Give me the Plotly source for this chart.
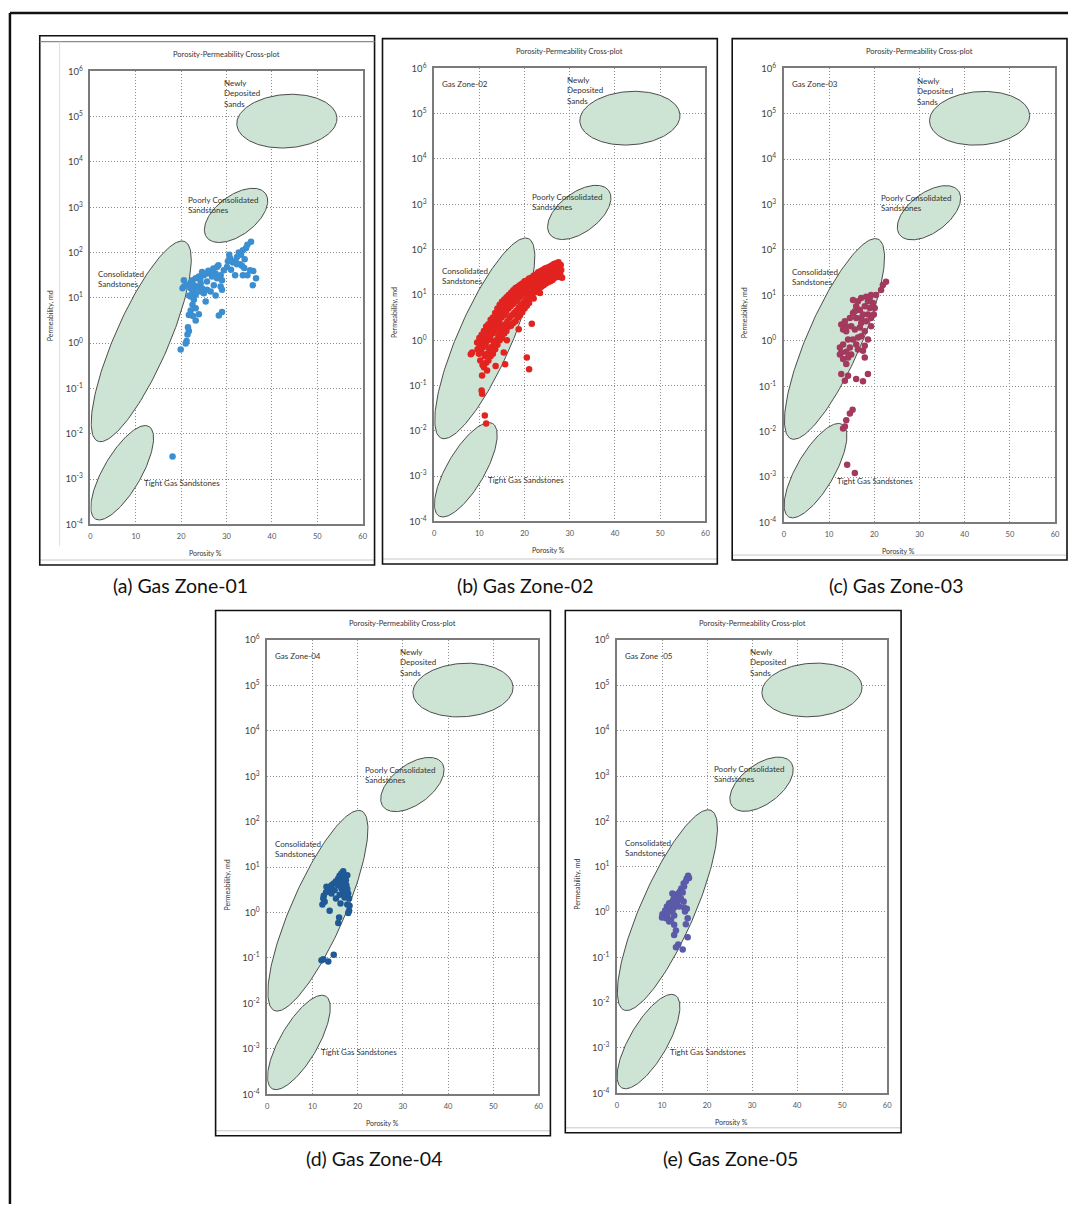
import numpy as np
import plotly.graph_objects as go

W, H = 1073, 1209

# ---------------- data (porosity %, log10 permeability md) ----------------
zone_captions = ["(a) Gas Zone-01", "(b) Gas Zone-02", "(c) Gas Zone-03",
                 "(d) Gas Zone-04", "(e) Gas Zone-05"]
zone_inner_labels = ["", "Gas Zone-02", "Gas Zone-03", "Gas Zone-04", "Gas Zone -05"]
zone_colors = ["#3b8fd0", "#e2231f", "#a33a5e", "#1f5a96", "#5b5aa8"]

zone01 = [
    (35.4, 2.24), (34.6, 2.17), (34.3, 2.10), (33.6, 2.05), (32.7, 2.00), (33.2, 1.95),
    (32.3, 1.90), (30.8, 1.87), (30.3, 1.81), (31.4, 1.78), (32.3, 1.74), (33.4, 1.71),
    (30.1, 1.68), (29.4, 1.61), (27.9, 1.68), (27.1, 1.65), (26.5, 1.59), (27.6, 1.54),
    (28.7, 1.50), (29.0, 1.39), (27.9, 1.43), (26.8, 1.47), (25.7, 1.54), (25.0, 1.50),
    (24.6, 1.57), (23.9, 1.47), (23.2, 1.43), (22.5, 1.39), (22.0, 1.32), (21.2, 1.28),
    (20.6, 1.25), (22.8, 1.28), (23.6, 1.25), (24.6, 1.21), (25.7, 1.18), (26.5, 1.14),
    (28.7, 1.25), (29.0, 1.18), (27.6, 1.05), (25.0, 1.10), (24.3, 1.14), (22.5, 1.14),
    (22.1, 1.03), (22.8, 0.96), (25.4, 0.92), (22.5, 0.85), (23.2, 0.77), (22.1, 0.72),
    (23.9, 0.64), (21.7, 0.62), (23.2, 0.50), (29.0, 0.69), (28.3, 0.61), (21.7, 0.27),
    (21.4, 0.19), (21.2, 0.05), (21.0, -0.01), (19.9, -0.14), (35.2, 1.61), (35.9, 1.59),
    (36.5, 1.43), (35.8, 1.28), (34.6, 1.50), (33.6, 1.50), (31.9, 1.50), (33.0, 1.74),
    (33.9, 1.66), (20.6, 1.39), (20.3, 1.21), (22.1, 1.21), (24.3, 1.32), (25.7, 1.36),
    (27.2, 1.28), (23.2, 1.07), (31.0, 1.62), (30.6, 1.95), (34.0, 1.85), (32.0, 1.82),
    (28.2, 1.72), (26.0, 1.60), (24.2, 1.40), (23.0, 1.18), (21.8, 1.05), (22.6, 0.60),
    (21.5, 0.35), (18.1, -2.50),
]

zone02 = [
    (9.5, -0.05), (9.6, -0.2),
    (10.0, 0.05), (10.1, -0.1), (9.9, -0.3), (10.2, -0.45),
    (10.5, 0.12), (10.6, -0.05), (10.4, -0.25), (10.7, -0.55),
    (11.0, 0.2), (11.1, 0.05), (10.9, -0.15), (11.2, -0.35), (11.0, -0.6),
    (11.5, 0.3), (11.6, 0.1), (11.4, -0.1), (11.7, -0.3), (11.5, -0.5),
    (12.0, 0.35), (12.1, 0.2), (11.9, 0.0), (12.2, -0.2), (12.0, -0.45),
    (12.5, 0.45), (12.6, 0.25), (12.4, 0.05), (12.7, -0.15), (12.5, -0.35),
    (13.0, 0.5), (13.1, 0.35), (12.9, 0.15), (13.2, -0.05), (13.0, -0.3),
    (13.5, 0.6), (13.6, 0.4), (13.4, 0.2), (13.7, 0.0), (13.5, -0.2),
    (14.0, 0.7), (14.1, 0.5), (13.9, 0.3), (14.2, 0.1), (14.0, -0.1),
    (14.5, 0.78), (14.6, 0.6), (14.4, 0.4), (14.7, 0.2), (14.5, 0.0),
    (15.0, 0.85), (15.1, 0.7), (14.9, 0.5), (15.2, 0.3), (15.0, 0.05),
    (15.5, 0.9), (15.6, 0.75), (15.4, 0.55), (15.7, 0.35), (15.5, 0.15),
    (16.0, 0.95), (16.1, 0.8), (15.9, 0.62), (16.2, 0.42), (16.0, 0.2),
    (16.5, 1.0), (16.6, 0.85), (16.4, 0.7), (16.7, 0.5), (16.5, 0.3),
    (17.0, 1.05), (17.1, 0.92), (16.9, 0.75), (17.2, 0.55), (17.0, 0.32),
    (17.5, 1.1), (17.6, 0.95), (17.4, 0.8), (17.7, 0.6), (17.5, 0.38),
    (18.0, 1.15), (18.1, 1.0), (17.9, 0.85), (18.2, 0.65), (18.0, 0.42),
    (18.5, 1.18), (18.6, 1.05), (18.4, 0.9), (18.7, 0.72), (18.5, 0.5),
    (19.0, 1.22), (19.1, 1.1), (18.9, 0.95), (19.2, 0.78), (19.0, 0.55),
    (19.5, 1.25), (19.6, 1.13), (19.4, 1.0), (19.7, 0.82), (19.5, 0.62),
    (20.0, 1.3), (20.1, 1.18), (19.9, 1.03), (20.2, 0.88), (20.0, 0.7),
    (20.5, 1.32), (20.6, 1.2), (20.4, 1.08), (20.7, 0.92), (20.5, 0.76),
    (21.0, 1.36), (21.1, 1.25), (20.9, 1.12), (21.2, 0.98), (21.0, 0.82),
    (21.5, 1.38), (21.6, 1.28), (21.4, 1.15), (21.7, 1.02),
    (22.0, 1.42), (22.1, 1.32), (21.9, 1.2), (22.2, 1.05), (22.0, 0.92),
    (22.5, 1.45), (22.6, 1.35), (22.4, 1.22), (22.7, 1.1),
    (23.0, 1.5), (23.1, 1.4), (22.9, 1.28), (23.2, 1.13),
    (23.5, 1.52), (23.6, 1.42), (23.4, 1.3), (23.7, 1.18),
    (24.0, 1.55), (24.1, 1.45), (23.9, 1.35), (24.2, 1.21),
    (24.5, 1.58), (24.6, 1.48), (24.4, 1.38), (24.7, 1.25),
    (25.0, 1.6), (25.1, 1.5), (24.9, 1.4), (25.2, 1.28),
    (25.5, 1.62), (25.6, 1.52), (25.4, 1.42), (25.7, 1.3),
    (26.0, 1.65), (26.1, 1.55), (25.9, 1.45), (26.2, 1.33),
    (26.5, 1.68), (26.6, 1.58), (26.4, 1.48), (26.7, 1.38),
    (27.0, 1.7), (27.1, 1.6), (26.9, 1.5), (27.2, 1.4),
    (27.5, 1.72), (27.6, 1.6), (27.4, 1.5), (27.7, 1.4),
    (28.0, 1.66), (28.1, 1.55), (27.9, 1.45), (28.3, 1.38),
    (8.4, -0.27), (8.1, -0.31), (10.6, -0.78), (10.5, -1.11), (10.6, -1.18),
    (11.2, -1.66), (11.5, -1.84), (20.5, -0.38), (21.0, -0.64), (21.6, 0.36),
    (18.7, 0.24), (23.4, 1.04), (24.5, 1.29), (15.7, -0.53), (13.6, -0.57),
    (11.7, -0.67), (16.1, 0.0), (15.4, -0.27),
]

zone03 = [
    (22.6, 1.30), (21.9, 1.23), (21.5, 1.12), (20.4, 1.01), (19.3, 1.01), (18.2, 0.97),
    (17.1, 0.94), (16.4, 0.87), (18.6, 0.87), (19.7, 0.83), (19.0, 0.72), (17.9, 0.76),
    (16.8, 0.68), (17.5, 0.58), (18.6, 0.58), (19.3, 0.50), (18.2, 0.43), (17.1, 0.39),
    (16.0, 0.50), (15.3, 0.61), (14.6, 0.50), (13.5, 0.43), (12.7, 0.36), (13.1, 0.25),
    (13.8, 0.21), (14.9, 0.32), (15.7, 0.25), (16.8, 0.29), (17.9, 0.21), (17.1, 0.10),
    (16.4, 0.07), (15.3, 0.03), (14.2, 0.03), (13.1, -0.08), (12.4, -0.15), (12.7, -0.26),
    (13.8, -0.24), (14.6, -0.15), (14.9, -0.30), (14.2, -0.37), (13.1, -0.40), (12.4, -0.30),
    (16.0, -0.08), (16.4, -0.19), (17.5, -0.22), (17.9, -0.11), (13.8, -0.51), (12.7, -0.73),
    (14.2, -0.77), (13.5, -0.88), (16.0, -0.84), (17.5, -0.89), (18.6, -0.73), (15.7, 0.65),
    (19.0, 0.94), (20.1, 0.72), (19.9, 0.58), (19.3, 0.32), (18.6, 0.03), (17.9, -0.37),
    (15.3, 0.90), (16.0, 0.76), (17.1, 0.50), (13.8, 0.32), (15.2, -1.52), (14.6, -1.60),
    (13.8, -1.75), (13.5, -1.89), (13.1, -1.93), (14.0, -2.73), (15.7, -2.91),
]

zone04 = [
    (16.8, 0.91), (16.4, 0.86), (17.1, 0.82), (16.0, 0.81), (15.7, 0.75), (16.8, 0.75),
    (17.4, 0.71), (15.2, 0.69), (16.0, 0.68), (14.7, 0.64), (16.8, 0.64), (17.5, 0.60),
    (14.2, 0.60), (15.7, 0.60), (13.8, 0.55), (16.4, 0.53), (17.7, 0.52), (13.5, 0.49),
    (14.9, 0.49), (16.8, 0.45), (13.0, 0.45), (17.9, 0.42), (12.5, 0.37), (16.0, 0.39),
    (15.2, 0.31), (17.1, 0.33), (12.4, 0.31), (18.1, 0.31), (12.7, 0.24), (16.2, 0.20),
    (12.2, 0.18), (17.7, 0.18), (18.2, 0.15), (18.1, 0.04), (17.9, -0.01), (13.8, 0.04),
    (15.9, -0.11), (15.7, -0.23), (12.4, -1.03), (12.0, -1.05), (14.7, -0.93), (13.5, -1.08),
    (14.2, 0.42), (17.7, 0.82), (13.1, 0.57),
]

zone05 = [
    (15.8, 0.80), (15.5, 0.74), (15.3, 0.68), (14.8, 0.63), (14.9, 0.56), (14.3, 0.52),
    (14.0, 0.45), (13.6, 0.41), (14.6, 0.43), (13.1, 0.36), (13.8, 0.32), (12.6, 0.30),
    (13.5, 0.24), (12.3, 0.23), (11.6, 0.19), (13.1, 0.17), (12.0, 0.14), (11.1, 0.12),
    (12.7, 0.10), (11.6, 0.05), (10.7, 0.03), (12.3, 0.01), (10.1, -0.05), (11.2, -0.06),
    (10.0, -0.12), (10.9, -0.14), (12.0, -0.17), (12.7, -0.08), (14.9, 0.10), (15.5, 0.07),
    (15.1, 0.01), (15.7, -0.14), (11.6, -0.21), (12.7, -0.28), (15.3, -0.27), (13.1, -0.41),
    (12.7, -0.51), (15.7, -0.56), (13.6, -0.72), (13.1, -0.78), (14.6, -0.83), (14.2, 0.30),
    (14.8, 0.23), (16.0, 0.75), (13.8, 0.12), (12.3, 0.41),
]
zones = [zone01, zone02, zone03, zone04, zone05]

porosity_ticks = [0, 10, 20, 30, 40, 50, 60]
perm_exponents = [-4, -3, -2, -1, 0, 1, 2, 3, 4, 5, 6]
perm_tick_labels = ["10<sup>-4</sup>", "10<sup>-3</sup>", "10<sup>-2</sup>", "10<sup>-1</sup>",
                    "10<sup>0</sup>", "10<sup>1</sup>", "10<sup>2</sup>", "10<sup>3</sup>",
                    "10<sup>4</sup>", "10<sup>5</sup>", "10<sup>6</sup>"]

# rock-type regions: centre (porosity, log10 k), semi-axes in screen px, tilt in deg
region_center_poro = [43.3, 32.1, 11.2, 7.0]
region_center_logk = [4.9, 2.82, 0.04, -2.86]
region_major_px = [50.5, 37.0, 110.0, 54.0]
region_minor_px = [27.0, 20.0, 27.0, 19.0]
region_angle_deg = [4.0, 37.0, 66.5, 60.0]
region_labels = ["Newly<br>Deposited<br>Sands", "Poorly Consolidated<br>Sandstones",
                 "Consolidated<br>Sandstones", "Tight Gas Sandstones"]
region_label_poro = [29.0, 21.1, 1.3, 11.4]
region_label_logk = [5.5, 3.04, 1.41, -3.08]

# ---------------- layout (pixels) ----------------
plot_px = [(89, 64, 363, 522), (435, 61, 708, 519), (787, 61, 1060, 520),
           (267, 639, 540, 1098), (619, 639, 891, 1097)]
frame_px = [(38, 28, 375, 563), (383, 31, 720, 562), (735, 31, 1072, 558),
            (215, 609, 552, 1140), (567, 609, 905, 1137)]
caption_px = [(180, 584), (526, 584), (900, 584), (374, 1163), (733, 1163)]


def fx(x):
    return x / W


def fy(y):
    return 1 - y / H


FONT = "Lato"
fig = go.Figure()
shapes = []
annotations = []
layout = {}

for i in range(5):
    l, t, r, b = plot_px[i]
    ppx = (r - l) / 60.0
    ppy = (b - t) / 10.0
    sfx = "" if i == 0 else str(i + 1)
    xref, yref = "x" + sfx, "y" + sfx
    # regions
    tt = np.linspace(0, 2 * np.pi, 181)
    for k in range(4):
        th = np.radians(region_angle_deg[k])
        a, bb = region_major_px[k], region_minor_px[k]
        dx = a * np.cos(th) * np.cos(tt) - bb * np.sin(th) * np.sin(tt)
        dy = a * np.sin(th) * np.cos(tt) + bb * np.cos(th) * np.sin(tt)
        fig.add_trace(go.Scatter(
            x=region_center_poro[k] + dx / ppx,
            y=10 ** (region_center_logk[k] + dy / ppy),
            mode="lines", fill="toself", fillcolor="#cde3d4",
            line=dict(color="#3a3a3a", width=0.9),
            xaxis=xref, yaxis=yref, showlegend=False, hoverinfo="skip"))
        annotations.append(dict(
            x=region_label_poro[k], y=region_label_logk[k], xref=xref, yref=yref,
            text=region_labels[k], showarrow=False, xanchor="left", yanchor="middle",
            align="left", font=dict(family=FONT, size=8, color="#333")))
    pts = zones[i]
    fig.add_trace(go.Scatter(
        x=[p[0] for p in pts], y=[10 ** p[1] for p in pts], mode="markers",
        marker=dict(color=zone_colors[i], size=6.5, line=dict(width=0)),
        xaxis=xref, yaxis=yref, showlegend=False))

    axis_common = dict(showgrid=True, gridcolor="#8c8c8c", griddash="1px,2px", gridwidth=1,
                       showline=True, mirror=True, linecolor="#7b7b7b", linewidth=1.5,
                       zeroline=False, ticks="", ticklabelstandoff=4)
    layout["xaxis" + sfx] = dict(
        domain=[fx(l), fx(r)], range=[0, 60], anchor=yref, tickvals=porosity_ticks,
        tickfont=dict(family=FONT, size=7.5, color="#555"), **axis_common)
    layout["yaxis" + sfx] = dict(
        domain=[fy(b), fy(t)], type="log", range=[-4, 6], anchor=xref,
        tickvals=[10 ** e for e in perm_exponents], ticktext=perm_tick_labels,
        tickfont=dict(family=FONT, size=9.5, color="#444"), **axis_common)

    # texts around the plot
    annotations.append(dict(x=fx((l + r) / 2), y=fy(t - 17), xref="paper", yref="paper",
                            text="Porosity-Permeability Cross-plot", showarrow=False,
                            xanchor="center", yanchor="middle",
                            font=dict(family=FONT, size=7.5, color="#333")))
    annotations.append(dict(x=fx(l - 40), y=fy((t + b) / 2 + 18), xref="paper", yref="paper",
                            text="Permeability, md", showarrow=False, textangle=-90,
                            xanchor="center", yanchor="middle",
                            font=dict(family=FONT, size=7, color="#333")))
    annotations.append(dict(x=fx((l + r) / 2 - 21), y=fy(b + 29), xref="paper", yref="paper",
                            text="Porosity %", showarrow=False,
                            xanchor="center", yanchor="middle",
                            font=dict(family=FONT, size=7, color="#333")))
    if zone_inner_labels[i]:
        annotations.append(dict(x=1.3, y=5.65, xref=xref, yref=yref, text=zone_inner_labels[i],
                                showarrow=False, xanchor="left", yanchor="middle",
                                font=dict(family=FONT, size=8, color="#333")))
    cx, cy = caption_px[i]
    annotations.append(dict(x=fx(cx), y=fy(cy), xref="paper", yref="paper",
                            text=zone_captions[i], showarrow=False,
                            xanchor="center", yanchor="middle",
                            font=dict(family=FONT, size=19.5, color="#111")))
    # frames
    fl, ft, fr, fb = frame_px[i]
    shapes.append(dict(type="line", xref="paper", yref="paper", x0=fx(fl), x1=fx(fr),
                       y0=fy(fb - 5), y1=fy(fb - 5), line=dict(color="#c8c8c8", width=1)))
    shapes.append(dict(type="rect", xref="paper", yref="paper", x0=fx(fl), x1=fx(fr),
                       y0=fy(fb), y1=fy(ft), line=dict(color="#111", width=1.6)))

# extra window lines on panel (a)
shapes.append(dict(type="line", xref="paper", yref="paper", x0=fx(38), x1=fx(375),
                   y0=fy(34), y1=fy(34), line=dict(color="#8a8a8a", width=1.3)))
shapes.append(dict(type="line", xref="paper", yref="paper", x0=fx(58), x1=fx(58),
                   y0=fy(34), y1=fy(544), line=dict(color="#dddddd", width=1)))
# outer border (top and left)
shapes.append(dict(type="line", xref="paper", yref="paper", x0=fx(8), x1=1.0,
                   y0=fy(5), y1=fy(5), line=dict(color="#111", width=2.5)))
shapes.append(dict(type="line", xref="paper", yref="paper", x0=fx(8), x1=fx(8),
                   y0=fy(5), y1=0.0, line=dict(color="#111", width=2.5)))

fig.update_layout(width=W, height=H, margin=dict(l=0, r=0, t=0, b=0),
                  paper_bgcolor="white", plot_bgcolor="white",
                  shapes=shapes, annotations=annotations, **layout)
fig.write_html("out.html")
